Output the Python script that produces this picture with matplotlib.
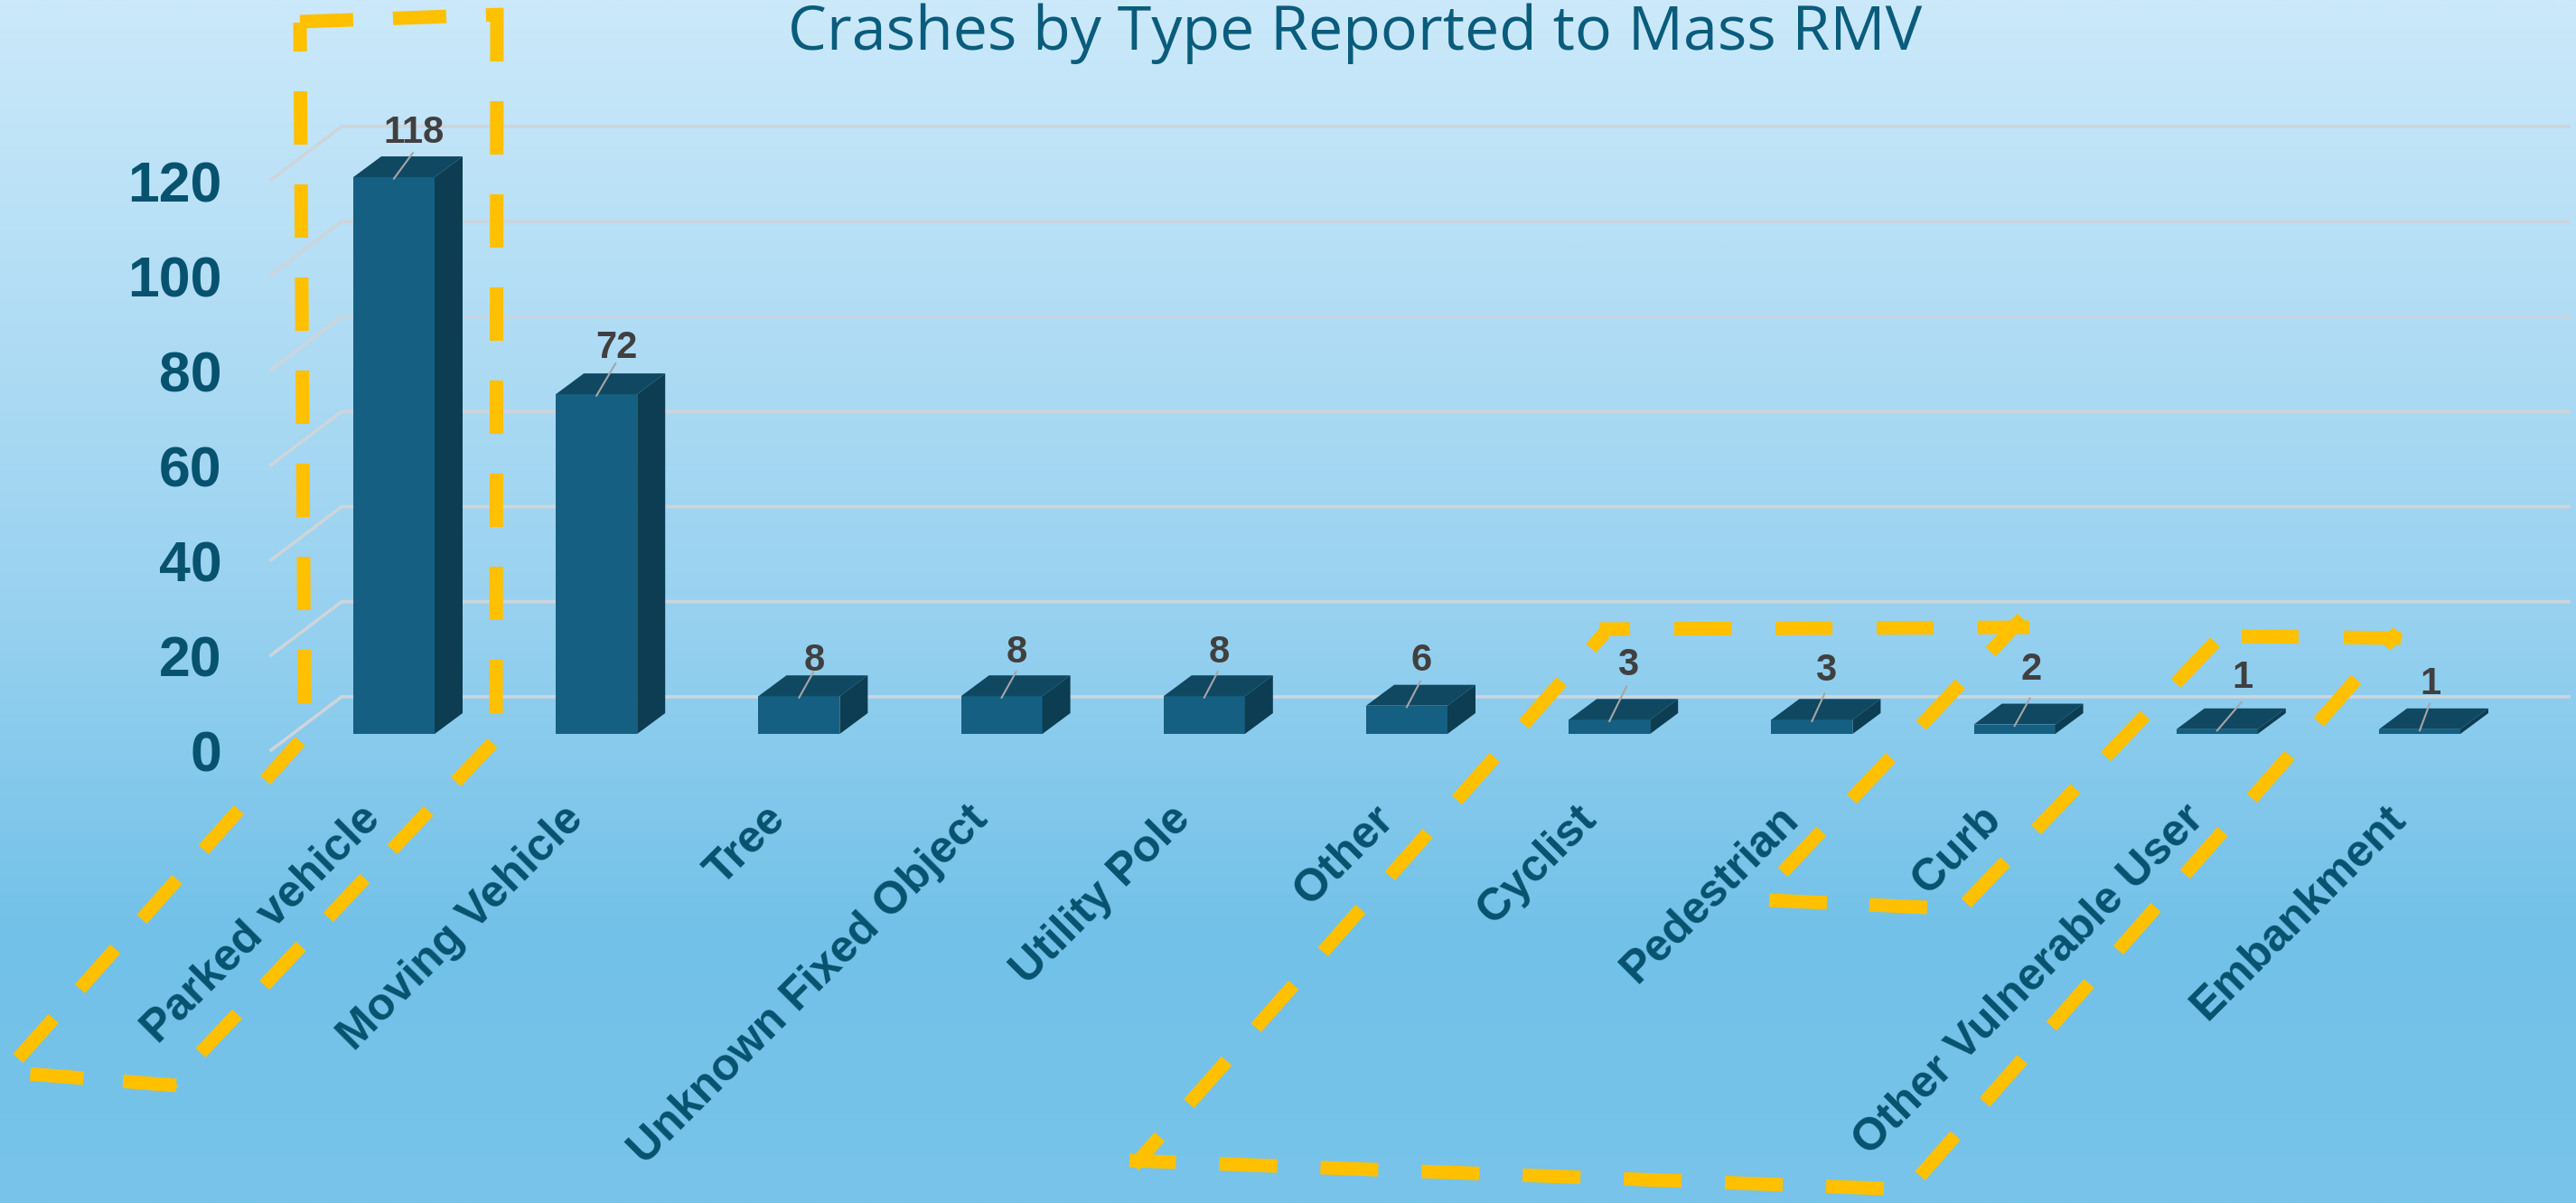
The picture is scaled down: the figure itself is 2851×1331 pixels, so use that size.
import matplotlib
matplotlib.use("Agg")
import matplotlib.pyplot as plt
from matplotlib.colors import LinearSegmentedColormap
import numpy as np

categories = ["Parked vehicle", "Moving Vehicle", "Tree", "Unknown Fixed Object", "Utility Pole",
              "Other", "Cyclist", "Pedestrian", "Curb", "Other Vulnerable User", "Embankment"]
values = [118, 72, 8, 8, 8, 6, 3, 3, 2, 1, 1]
y_ticks = [0, 20, 40, 60, 80, 100, 120]
title = "Crashes by Type Reported to Mass RMV"

# leader line / label offsets from the middle of each bar's top edge, in px
leader_dx = [21, 21, 16, 16, 15, 15, 19, 14, 17, 27, 11]
leader_dy = [27, 34, 27, 27, 27, 27, 37, 29, 29, 30, 28]
label_dy = [49, 51, 39, 48, 48, 50, 60, 54, 61, 57, 50]

# hand drawn callouts, one stroke per edge: start, end, dash px, gap px, phase px
strokes_1 = [
    ((332, 24), (556, 16), 59, 44, 0),
    ((550, 9), (549, 800), 59, 44, 0),
    ((545, 822), (188, 1201), 59, 44, 0),
    ((195, 1201), (30, 1188), 59, 44, 0),
    ((20, 1171), (332, 820), 59, 44, 0),
    ((337, 778), (332, 25), 59, 44, 0),
]
strokes_2 = [
    ((1255, 1290), (1776, 700), 63, 49, 20),
    ((1770, 696), (2246, 694), 63, 49, 29),
    ((2238, 684), (1973, 965), 63, 49, 12),
    ((1958, 996), (2133, 1004), 64, 47, 0),
    ((2176, 999), (2452, 710), 63, 49, 0),
    ((2481, 704), (2665, 706), 63, 50, 0),
    ((2654, 699), (2125, 1301), 63, 49, 42),
    ((2085, 1315), (1250, 1284), 64, 48, 0),
]

W, H = 2851, 1331
BLUE_TEXT = "#07526F"
FRONT, TOP, SIDE = "#156082", "#104862", "#0C3D52"
GRID = "#CDD5DB"
YELLOW = "#FFC000"
LW_PX = 15

fig = plt.figure(figsize=(W / 100, H / 100), dpi=100)


def px_axes(left, top, right, bottom, **kw):
    ax = fig.add_axes([left / W, 1 - bottom / H, (right - left) / W, (bottom - top) / H], **kw)
    ax.patch.set_alpha(0)
    return ax


# background
bg = px_axes(0, 0, W, H)
cmap = LinearSegmentedColormap.from_list(
    "sky", [(0, "#CBE9FA"), (0.5, "#99D2F0"), (0.78, "#72C1E8"), (1, "#78C4EA")])
bg.imshow(np.linspace(0, 1, 512)[:, None], aspect="auto", cmap=cmap, vmin=0, vmax=1)
bg.axis("off")

# gridlines and y axis, tick labels sit just under the front end of each line
ax_g = px_axes(300, 200, 2843, 831)
ax_g.set_xlim(300, 2843)
ax_g.set_ylim(0, 120)
ax_g.spines[["top", "right", "left", "bottom"]].set_visible(False)
ax_g.set_xticks([])
ax_g.set_yticks(y_ticks)
ax_g.tick_params(axis="y", length=0, pad=39, labelcolor=BLUE_TEXT)
for t in ax_g.get_yticklabels():
    t.set_fontsize(45)
    t.set_fontweight("bold")
    t.set_family("Liberation Sans")
shift = 1 / 5.25
for v in y_ticks:
    ax_g.plot([300, 378, 2843], [v + shift, v + shift + 59 / 5.25, v + shift + 59 / 5.25], color=GRID, lw=2.6,
              clip_on=False)

# bars
ax = px_axes(0, 0, W, H)
spacing, scale = 224.2, 5.22
ax.set_xlim(-436 / spacing, (W - 436) / spacing)
ax.set_ylim((812 - H) / scale, 812 / scale)
ax.axis("off")
x = np.arange(len(values))
bw = 90 / spacing
dx, dy = 31 / spacing, 23 / scale
ax.bar(x, values, width=bw, color=FRONT, zorder=3)
for xi, v in zip(x, values):
    r = xi + bw / 2
    ax.fill([xi - bw / 2, r, r + dx, xi - bw / 2 + dx], [v, v, v + dy, v + dy], color=TOP, lw=0, zorder=3)
    ax.fill([r, r + dx, r + dx, r], [0, dy, v + dy, v], color=SIDE, lw=0, zorder=3)

for xi, v, ldx, ldy, ty, name in zip(x, values, leader_dx, leader_dy, label_dy, categories):
    ax.plot([xi, xi + ldx / spacing], [v - 0.3, v + ldy / scale], color="#A6A6A6", lw=1.5, zorder=4)
    ax.text(xi + (ldx + 1) / spacing, v + ty / scale, str(v), ha="center", va="center", fontsize=30,
            fontweight="bold", color="#404040", family="Liberation Sans", zorder=5)
    ax.text(xi - 22 / spacing, -87 / scale, name, rotation=45, rotation_mode="anchor", ha="right", va="center",
            fontsize=36, fontweight="bold", color=BLUE_TEXT, family="Liberation Sans", zorder=5)

# title and callouts
top = px_axes(0, 0, W, H)
top.set_xlim(0, W)
top.set_ylim(H, 0)
top.axis("off")
top.text(1500, 37, title, ha="center", va="center", fontsize=49.1, color="#0A5C7C", family="Open Sans")
for start, end, dash, gap, phase in strokes_1 + strokes_2:
    top.plot([start[0], end[0]], [start[1], end[1]], color=YELLOW, lw=LW_PX * 0.72,
             linestyle=(phase / LW_PX, (dash / LW_PX, gap / LW_PX)), dash_capstyle="butt")

fig.savefig("out.png", dpi=100)
